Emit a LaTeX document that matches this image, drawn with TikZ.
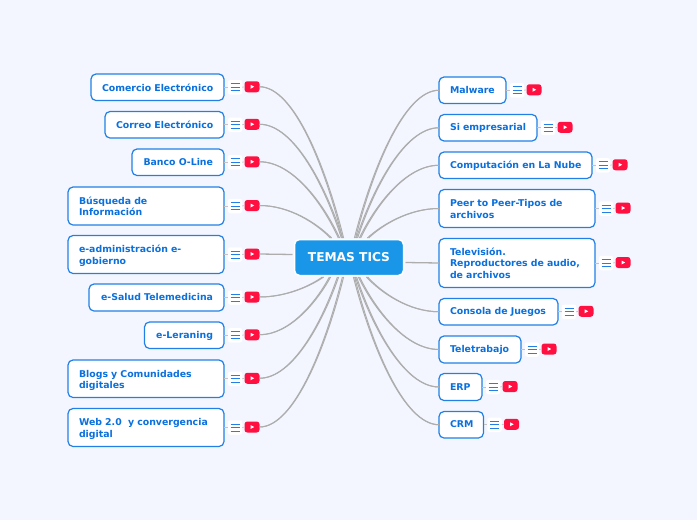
\documentclass[tikz,border=0pt]{standalone}
\usepackage{fontspec}
\setmainfont{DejaVu Sans}
\usetikzlibrary{calc}
\definecolor{bgc}{HTML}{F3F6FF}
\definecolor{bluetxt}{HTML}{0A70DE}
\definecolor{blueln}{HTML}{2080E6}
\definecolor{hubc}{HTML}{1A96E8}
\definecolor{ytc}{HTML}{FF1040}
\definecolor{lnk}{HTML}{ADADAD}
\tikzset{
 topic/.style={draw=blueln,line width=1.2pt,fill=white,rounded corners=5pt,font=\fontsize{9.37}{11.2}\selectfont\bfseries,text=bluetxt,align=left,inner xsep=11pt,inner ysep=0pt,outer sep=0pt},
 menubg/.style={fill=white,rounded corners=2.5pt,minimum width=14.5pt,minimum height=14.5pt,inner sep=0pt,outer sep=0pt},
 ytb/.style={fill=ytc,rounded corners=2.8pt,minimum width=15pt,minimum height=11pt,inner sep=0pt,outer sep=0pt},
 conn/.style={draw=lnk,line width=1pt},
 stub/.style={draw=lnk!70!bgc,line width=0.7pt},
 hubbox/.style={draw=white,line width=1.5pt,fill=hubc,rounded corners=5pt,text=white,font=\fontsize{12.2}{14}\selectfont\bfseries,minimum width=109pt,minimum height=36pt,inner sep=0pt,outer sep=0pt}
}
\newcommand\oneL[1]{\rule[-3pt]{0pt}{12pt}\mbox{#1}}
\newcommand\oneR[1]{\hfill\rule[-3pt]{0pt}{12pt}\mbox{#1}}
\newcommand\first[1]{\rule{0pt}{10.8pt}\mbox{#1}}
\newcommand\last[1]{\rule[-3pt]{0pt}{3pt}\mbox{#1}}
\newcommand\topicbox[6]{%
 \node[topic,minimum width={#3-#2},minimum height={#5-#4},text width={#3-#2-22}] (b#1) at ({(#2+#3)/2},{(#4+#5)/2}) {#6};
 \node[menubg] (m#1) at ({#3+11},{(#4+#5)/2}) {};
 \node[ytb] (y#1) at ({#3+28},{(#4+#5)/2-0.5}) {};
 \foreach \d in {-3.5,0,3.5}{\draw[blueln,line width=0.95pt] ($(m#1.center)+(-4.5,\d)$) -- ($(m#1.center)+(4.5,\d)$);}
 \fill[white] ($(y#1.center)+(-1.5,-2)$) -- ($(y#1.center)+(2.2,0)$) -- ($(y#1.center)+(-1.5,2)$) -- cycle;
 \draw[stub] (b#1.east) -- (m#1.west);
 \draw[stub] (m#1.east) -- (y#1.west);
}
\newcommand\curve[3]{%
 \foreach \o in {-0.6,0.6}{%
 \draw[conn] let \p1=(#1), \p2=($(hub.center)+(#2+\o,#3)$) in (\p1) .. controls ({\x1+0.42*(\x2-\x1)},{\y1}) and ({\x2-0.2*(\x2-\x1)},{\y2-0.45*(\y2-\y1)}) .. (\p2);}
}
\begin{document}
\begin{tikzpicture}[x=1pt,y=-1pt]
\useasboundingbox (0,0) rectangle (697,520);
\fill[bgc] (0,0) rectangle (697,520);
\node[hubbox] (hub) at (349,257.5) {TEMAS TICS};
% left
\topicbox{a}{91}{224}{74}{100.5}{\oneR{Comercio Electrónico}}
\topicbox{b}{105}{224}{111.5}{138}{\oneR{Correo Electrónico}}
\topicbox{c}{132}{224}{149}{175.5}{\oneR{Banco O-Line}}
\topicbox{d}{68}{224}{187}{225}{\first{Búsqueda de}\\\last{Información}}
\topicbox{e}{68}{224}{235.5}{273.5}{\first{e-administración e-}\\\last{gobierno}}
\topicbox{f}{89}{224}{284}{311}{\oneR{e-Salud Telemedicina}}
\topicbox{g}{144.5}{224}{322}{348.5}{\oneR{e-Leraning}}
\topicbox{h}{68}{224}{360}{397.5}{\first{Blogs y Comunidades}\\\last{digitales}}
\topicbox{i}{68}{224}{408.5}{446.5}{\first{Web 2.0\ \ y convergencia}\\\last{digital}}
\curve{ya.east}{-6}{-19.5}
\curve{yb.east}{-7}{-19.5}
\curve{yc.east}{-10}{-19.5}
\curve{yd.east}{-18}{-19.5}
\draw[conn,line width=1.3pt] (ye.east) -- ($(hub.west)+(-2,-3)$);
\curve{yf.east}{-26}{19.5}
\curve{yg.east}{-19}{19.5}
\curve{yh.east}{-11}{19.5}
\curve{yi.east}{-6}{19.5}
% right
\topicbox{j}{439}{506}{77}{103.5}{\oneL{Malware}}
\topicbox{k}{439}{537}{114.5}{141}{\oneL{Si empresarial}}
\topicbox{l}{439}{592}{152}{178.5}{\oneL{Computación en La Nube}}
\topicbox{m}{439}{595}{189.5}{227.5}{\first{Peer to Peer-Tipos de}\\\last{archivos}}
\topicbox{n}{439}{595}{238.5}{287.5}{\first{Televisión.}\\\mbox{Reproductores de audio,}\\\last{de archivos}}
\topicbox{o}{439}{558}{298.5}{325}{\oneL{Consola de Juegos}}
\topicbox{p}{439}{521}{336}{363}{\oneL{Teletrabajo}}
\topicbox{q}{439}{482}{373.5}{400.5}{\oneL{ERP}}
\topicbox{r}{439}{483.5}{411.5}{438}{\oneL{CRM}}
\curve{bj.west}{6}{-19.5}
\curve{bk.west}{8}{-19.5}
\curve{bl.west}{11}{-19.5}
\curve{bm.west}{19}{-19.5}
\draw[conn,line width=1.3pt] (hub.east)++(2,5) -- (bn.west);
\curve{bo.west}{18}{19.5}
\curve{bp.west}{10}{19.5}
\curve{bq.west}{7}{19.5}
\curve{br.west}{5}{19.5}
\end{tikzpicture}
\end{document}
